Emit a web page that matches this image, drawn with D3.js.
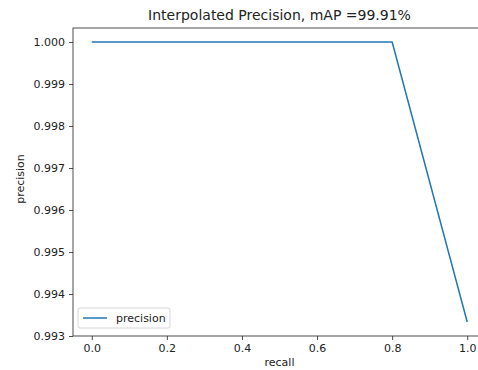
<!DOCTYPE html>
<html>
<head>
<meta charset="utf-8">
<script src="https://cdn.jsdelivr.net/npm/d3@7"></script>
<style>
  body { margin: 0; background: #fff; }
  text { font-family: "DejaVu Sans", sans-serif; fill: #222; }
</style>
</head>
<body>
<div id="Chart"></div>
<script>
const Recall = [0.0, 0.8, 1.0];
const Precision = [1.0, 1.0, 0.993333];
const XTicks = [0.0, 0.2, 0.4, 0.6, 0.8, 1.0];
const YTicks = [0.993, 0.994, 0.995, 0.996, 0.997, 0.998, 0.999, 1.000];
const Title = "Interpolated Precision, mAP =99.91%";

const Width = 478, Height = 370;
const Margin = {top: 28, right: -8, bottom: 34, left: 73};
const WidthInner = Width - Margin.left - Margin.right;
const HeightInner = Height - Margin.top - Margin.bottom;

// matplotlib-style 5% padding around the data
const XExt = d3.extent(Recall), YExt = d3.extent(Precision);
const XPad = (XExt[1] - XExt[0]) * 0.05, YPad = (YExt[1] - YExt[0]) * 0.05;
const ScaleX = d3.scaleLinear().domain([XExt[0] - XPad, XExt[1] + XPad]).range([0, WidthInner]);
const ScaleY = d3.scaleLinear().domain([YExt[0] - YPad, YExt[1] + YPad]).range([HeightInner, 0]);

const Canvas = d3.select("#Chart").append("svg").attr("width", Width).attr("height", Height);
const Plot = Canvas.append("g").attr("transform", `translate(${Margin.left}, ${Margin.top})`);

const Line = d3.line().x((d, i) => ScaleX(Recall[i])).y(d => ScaleY(d));
Plot.append("path").datum(Precision).attr("d", Line)
    .attr("fill", "none").attr("stroke", "#1f77b4").attr("stroke-width", 1.5)
    .attr("stroke-linejoin", "round");

const AxisX = d3.axisBottom(ScaleX).tickValues(XTicks).tickFormat(d3.format(".1f")).tickSizeOuter(0).tickSize(4).tickPadding(4);
const AxisY = d3.axisLeft(ScaleY).tickValues(YTicks).tickFormat(d3.format(".3f")).tickSizeOuter(0).tickSize(4).tickPadding(4);
const GX = Plot.append("g").attr("transform", `translate(0, ${HeightInner})`).call(AxisX);
const GY = Plot.append("g").call(AxisY);
[GX, GY].forEach(g => {
    g.selectAll("text").attr("font-size", 11).attr("font-family", "DejaVu Sans").style("fill", "#222");
    g.selectAll("line").attr("stroke", "#222").attr("stroke-width", 0.8);
    g.select(".domain").remove();
});

// spines
Plot.append("rect").attr("x", 0).attr("y", 0).attr("width", WidthInner).attr("height", HeightInner)
    .attr("fill", "none").attr("stroke", "#222").attr("stroke-width", 0.8);

Canvas.append("text").attr("x", Margin.left + WidthInner / 2).attr("y", 20)
    .attr("text-anchor", "middle").attr("font-size", 14).text(Title);
Canvas.append("text").attr("x", Margin.left + WidthInner / 2).attr("y", 366)
    .attr("text-anchor", "middle").attr("font-size", 11).text("recall");
Canvas.append("text").attr("transform", `translate(24, ${Margin.top + HeightInner / 2 - 3}) rotate(-90)`)
    .attr("text-anchor", "middle").attr("font-size", 11).text("precision");

// legend
const Legend = Plot.append("g").attr("transform", `translate(5, ${HeightInner - 28})`);
Legend.append("rect").attr("width", 92).attr("height", 20).attr("rx", 2)
    .attr("fill", "#fff").attr("fill-opacity", 0.8).attr("stroke", "#ccc").attr("stroke-width", 0.8);
Legend.append("line").attr("x1", 5).attr("x2", 29).attr("y1", 10).attr("y2", 10)
    .attr("stroke", "#1f77b4").attr("stroke-width", 1.5);
Legend.append("text").attr("x", 38).attr("y", 14).attr("font-size", 11).text("precision");
</script>
</body>
</html>
